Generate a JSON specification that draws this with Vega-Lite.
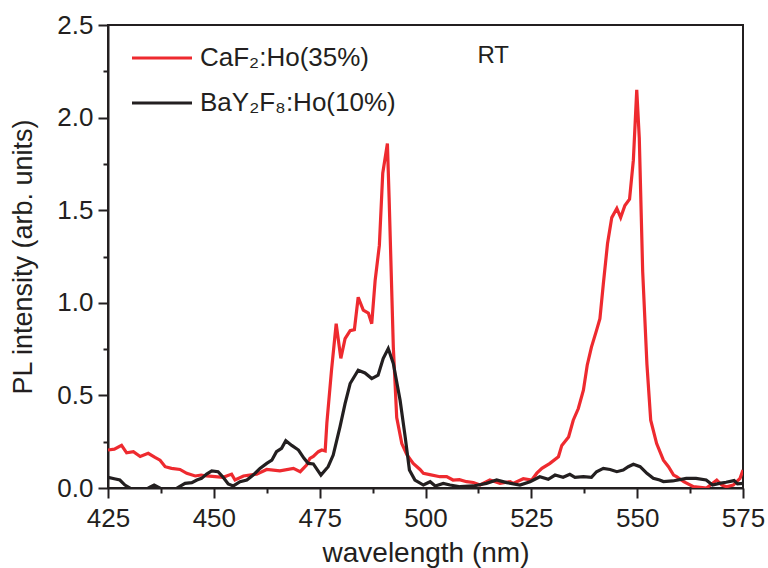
{
  "$schema": "https://vega.github.io/schema/vega-lite/v6.json",
  "width": 635,
  "height": 463,
  "autosize": {"type": "none"},
  "padding": {"left": 108, "top": 25, "right": 25, "bottom": 80},
  "config": {
    "font": "Liberation Sans",
    "view": {"stroke": "#231f20", "strokeWidth": 2},
    "axis": {
      "grid": false,
      "domainColor": "#231f20",
      "domainWidth": 2,
      "tickColor": "#231f20",
      "tickWidth": 2,
      "labelColor": "#231f20",
      "titleColor": "#231f20",
      "labelFontSize": 26,
      "titleFontSize": 27,
      "titleFontWeight": "normal",
      "labelFont": "Liberation Sans",
      "titleFont": "Liberation Sans"
    }
  },
  "datasets": {
    "spectra": [
      {"s":"CaF","wl":425,"v":0.205},{"s":"CaF","wl":426.5,"v":0.21},{"s":"CaF","wl":428.2,"v":0.23},{"s":"CaF","wl":429.4,"v":0.19},{"s":"CaF","wl":431,"v":0.196},{"s":"CaF","wl":432.6,"v":0.17},{"s":"CaF","wl":434.5,"v":0.187},{"s":"CaF","wl":436.1,"v":0.165},{"s":"CaF","wl":437.3,"v":0.15},{"s":"CaF","wl":438.5,"v":0.115},{"s":"CaF","wl":440,"v":0.106},{"s":"CaF","wl":442,"v":0.1},{"s":"CaF","wl":443.6,"v":0.079},{"s":"CaF","wl":445.6,"v":0.065},{"s":"CaF","wl":447,"v":0.07},{"s":"CaF","wl":448.3,"v":0.065},{"s":"CaF","wl":450.3,"v":0.061},{"s":"CaF","wl":452.2,"v":0.058},{"s":"CaF","wl":454.2,"v":0.075},{"s":"CaF","wl":455,"v":0.043},{"s":"CaF","wl":457,"v":0.065},{"s":"CaF","wl":460.1,"v":0.075},{"s":"CaF","wl":462.5,"v":0.1},{"s":"CaF","wl":465.6,"v":0.093},{"s":"CaF","wl":468.8,"v":0.106},{"s":"CaF","wl":470.4,"v":0.088},{"s":"CaF","wl":471.9,"v":0.124},{"s":"CaF","wl":472.7,"v":0.16},{"s":"CaF","wl":473.5,"v":0.17},{"s":"CaF","wl":474.7,"v":0.196},{"s":"CaF","wl":475.5,"v":0.205},{"s":"CaF","wl":476.3,"v":0.2},{"s":"CaF","wl":476.7,"v":0.35},{"s":"CaF","wl":477.8,"v":0.636},{"s":"CaF","wl":478.9,"v":0.887},{"s":"CaF","wl":480,"v":0.7},{"s":"CaF","wl":481,"v":0.807},{"s":"CaF","wl":482.2,"v":0.85},{"s":"CaF","wl":483.2,"v":0.855},{"s":"CaF","wl":484.1,"v":1.03},{"s":"CaF","wl":485.3,"v":0.96},{"s":"CaF","wl":486.5,"v":0.945},{"s":"CaF","wl":487.3,"v":0.887},{"s":"CaF","wl":488.1,"v":1.12},{"s":"CaF","wl":489.1,"v":1.31},{"s":"CaF","wl":489.9,"v":1.7},{"s":"CaF","wl":491,"v":1.86},{"s":"CaF","wl":491.4,"v":1.57},{"s":"CaF","wl":492.4,"v":0.76},{"s":"CaF","wl":493.2,"v":0.38},{"s":"CaF","wl":494.4,"v":0.24},{"s":"CaF","wl":495.6,"v":0.18},{"s":"CaF","wl":497.1,"v":0.133},{"s":"CaF","wl":498.7,"v":0.1},{"s":"CaF","wl":499.5,"v":0.079},{"s":"CaF","wl":501,"v":0.072},{"s":"CaF","wl":503.4,"v":0.061},{"s":"CaF","wl":505,"v":0.061},{"s":"CaF","wl":506.5,"v":0.043},{"s":"CaF","wl":508,"v":0.045},{"s":"CaF","wl":509.7,"v":0.034},{"s":"CaF","wl":511.3,"v":0.03},{"s":"CaF","wl":512.9,"v":0.016},{"s":"CaF","wl":515.2,"v":0.043},{"s":"CaF","wl":517.6,"v":0.025},{"s":"CaF","wl":520,"v":0.034},{"s":"CaF","wl":520.7,"v":0.025},{"s":"CaF","wl":523.1,"v":0.05},{"s":"CaF","wl":525.1,"v":0.043},{"s":"CaF","wl":526.3,"v":0.08},{"s":"CaF","wl":527.5,"v":0.106},{"s":"CaF","wl":529.4,"v":0.133},{"s":"CaF","wl":531.4,"v":0.169},{"s":"CaF","wl":532.2,"v":0.23},{"s":"CaF","wl":533.8,"v":0.276},{"s":"CaF","wl":534.9,"v":0.366},{"s":"CaF","wl":536.1,"v":0.429},{"s":"CaF","wl":537.3,"v":0.528},{"s":"CaF","wl":538.2,"v":0.663},{"s":"CaF","wl":539.2,"v":0.761},{"s":"CaF","wl":540.4,"v":0.851},{"s":"CaF","wl":541.2,"v":0.914},{"s":"CaF","wl":542,"v":1.1},{"s":"CaF","wl":543,"v":1.32},{"s":"CaF","wl":544,"v":1.46},{"s":"CaF","wl":545.2,"v":1.51},{"s":"CaF","wl":546.1,"v":1.46},{"s":"CaF","wl":547.1,"v":1.525},{"s":"CaF","wl":548.2,"v":1.56},{"s":"CaF","wl":549.1,"v":1.77},{"s":"CaF","wl":549.9,"v":2.15},{"s":"CaF","wl":550.5,"v":1.89},{"s":"CaF","wl":551.3,"v":1.17},{"s":"CaF","wl":552.3,"v":0.67},{"s":"CaF","wl":553.2,"v":0.366},{"s":"CaF","wl":554.6,"v":0.24},{"s":"CaF","wl":556.2,"v":0.15},{"s":"CaF","wl":557.4,"v":0.115},{"s":"CaF","wl":558.6,"v":0.07},{"s":"CaF","wl":559.3,"v":0.061},{"s":"CaF","wl":561,"v":0.034},{"s":"CaF","wl":563.3,"v":0.007},{"s":"CaF","wl":566.4,"v":0.0},{"s":"CaF","wl":568.8,"v":0.043},{"s":"CaF","wl":570,"v":0.016},{"s":"CaF","wl":571.1,"v":0.007},{"s":"CaF","wl":572.7,"v":0.016},{"s":"CaF","wl":574.3,"v":0.052},{"s":"CaF","wl":575,"v":0.097},
      {"s":"BaY","wl":425,"v":0.058},{"s":"BaY","wl":426.5,"v":0.05},{"s":"BaY","wl":427.8,"v":0.043},{"s":"BaY","wl":429,"v":0.016},{"s":"BaY","wl":430.2,"v":0.0},{"s":"BaY","wl":431.5,"v":-0.02},{"s":"BaY","wl":433,"v":-0.02},{"s":"BaY","wl":434.9,"v":0.004},{"s":"BaY","wl":435.9,"v":0.016},{"s":"BaY","wl":437.3,"v":0.0},{"s":"BaY","wl":438.5,"v":-0.02},{"s":"BaY","wl":440,"v":-0.02},{"s":"BaY","wl":441.6,"v":0.004},{"s":"BaY","wl":443.2,"v":0.025},{"s":"BaY","wl":444.8,"v":0.029},{"s":"BaY","wl":446,"v":0.043},{"s":"BaY","wl":447.1,"v":0.052},{"s":"BaY","wl":448.3,"v":0.075},{"s":"BaY","wl":449.5,"v":0.092},{"s":"BaY","wl":451,"v":0.088},{"s":"BaY","wl":452.2,"v":0.058},{"s":"BaY","wl":453.4,"v":0.022},{"s":"BaY","wl":454.6,"v":0.011},{"s":"BaY","wl":456.2,"v":0.034},{"s":"BaY","wl":457.8,"v":0.043},{"s":"BaY","wl":459.3,"v":0.07},{"s":"BaY","wl":460.9,"v":0.106},{"s":"BaY","wl":462.5,"v":0.133},{"s":"BaY","wl":463.7,"v":0.15},{"s":"BaY","wl":464.8,"v":0.196},{"s":"BaY","wl":466,"v":0.214},{"s":"BaY","wl":467,"v":0.255},{"s":"BaY","wl":468.4,"v":0.23},{"s":"BaY","wl":470,"v":0.205},{"s":"BaY","wl":471.3,"v":0.16},{"s":"BaY","wl":472.3,"v":0.133},{"s":"BaY","wl":473.5,"v":0.13},{"s":"BaY","wl":475.3,"v":0.07},{"s":"BaY","wl":477,"v":0.115},{"s":"BaY","wl":478.2,"v":0.178},{"s":"BaY","wl":479.8,"v":0.33},{"s":"BaY","wl":481,"v":0.456},{"s":"BaY","wl":482.2,"v":0.564},{"s":"BaY","wl":484.1,"v":0.636},{"s":"BaY","wl":485.7,"v":0.621},{"s":"BaY","wl":487.3,"v":0.591},{"s":"BaY","wl":488.8,"v":0.609},{"s":"BaY","wl":490,"v":0.699},{"s":"BaY","wl":491.2,"v":0.753},{"s":"BaY","wl":492.4,"v":0.672},{"s":"BaY","wl":494,"v":0.474},{"s":"BaY","wl":495.2,"v":0.276},{"s":"BaY","wl":496.2,"v":0.097},{"s":"BaY","wl":497.5,"v":0.043},{"s":"BaY","wl":499.5,"v":0.016},{"s":"BaY","wl":501.1,"v":0.034},{"s":"BaY","wl":502.3,"v":0.011},{"s":"BaY","wl":504.2,"v":0.025},{"s":"BaY","wl":505.8,"v":0.016},{"s":"BaY","wl":508.2,"v":0.007},{"s":"BaY","wl":511.3,"v":0.011},{"s":"BaY","wl":514.4,"v":0.025},{"s":"BaY","wl":516.8,"v":0.043},{"s":"BaY","wl":519.2,"v":0.029},{"s":"BaY","wl":522.3,"v":0.016},{"s":"BaY","wl":524.7,"v":0.034},{"s":"BaY","wl":527,"v":0.061},{"s":"BaY","wl":529,"v":0.047},{"s":"BaY","wl":530.6,"v":0.07},{"s":"BaY","wl":532.5,"v":0.058},{"s":"BaY","wl":534.1,"v":0.074},{"s":"BaY","wl":535.3,"v":0.058},{"s":"BaY","wl":537.3,"v":0.061},{"s":"BaY","wl":539.2,"v":0.058},{"s":"BaY","wl":540.4,"v":0.088},{"s":"BaY","wl":542,"v":0.106},{"s":"BaY","wl":543.6,"v":0.1},{"s":"BaY","wl":545.2,"v":0.088},{"s":"BaY","wl":546.7,"v":0.097},{"s":"BaY","wl":547.9,"v":0.115},{"s":"BaY","wl":549.1,"v":0.128},{"s":"BaY","wl":550.7,"v":0.115},{"s":"BaY","wl":552.3,"v":0.079},{"s":"BaY","wl":553.8,"v":0.052},{"s":"BaY","wl":555.3,"v":0.043},{"s":"BaY","wl":556.2,"v":0.035},{"s":"BaY","wl":558.4,"v":0.038},{"s":"BaY","wl":561.6,"v":0.052},{"s":"BaY","wl":563.9,"v":0.052},{"s":"BaY","wl":566.3,"v":0.043},{"s":"BaY","wl":567.8,"v":0.016},{"s":"BaY","wl":569.4,"v":0.025},{"s":"BaY","wl":571,"v":0.031},{"s":"BaY","wl":572.9,"v":0.04},{"s":"BaY","wl":573.7,"v":0.022},{"s":"BaY","wl":575,"v":0.025}
    ],
    "notes": [{"label": "RT", "wl": 516, "v": 2.33}]
  },
  "layer": [
    {
      "data": {"name": "spectra"},
      "mark": {"type": "line", "strokeWidth": 3.2, "clip": true, "strokeJoin": "miter"},
      "encoding": {
        "x": {
          "field": "wl", "type": "quantitative",
          "scale": {"domain": [425, 575], "nice": false, "zero": false},
          "axis": {
            "title": "wavelength (nm)",
            "values": [425, 437.5, 450, 462.5, 475, 487.5, 500, 512.5, 525, 537.5, 550, 562.5, 575],
            "labelExpr": "datum.value % 25 == 0 ? format(datum.value, 'd') : ''",
            "tickSize": {"condition": {"test": "datum.value % 25 != 0", "value": 5}, "value": 10},
            "labelPadding": 7,
            "titlePadding": 8,
            "titleFontSize": 28,
            "labelFlush": false
          }
        },
        "y": {
          "field": "v", "type": "quantitative",
          "scale": {"domain": [0, 2.5], "nice": false},
          "axis": {
            "title": "PL intensity (arb. units)",
            "values": [0, 0.25, 0.5, 0.75, 1, 1.25, 1.5, 1.75, 2, 2.25, 2.5],
            "labelExpr": "round(datum.value * 4) % 2 == 0 ? format(datum.value, '.1f') : ''",
            "tickSize": {"condition": {"test": "round(datum.value * 4) % 2 == 1", "value": 5}, "value": 10},
            "labelPadding": 5,
            "titlePadding": 19,
            "labelFlush": false
          }
        },
        "color": {
          "field": "s", "type": "nominal",
          "scale": {"domain": ["CaF", "BaY"], "range": ["#ee2a2f", "#231f20"]},
          "legend": {
            "title": null,
            "orient": "none",
            "legendX": 22,
            "legendY": 1,
            "symbolType": "stroke",
            "symbolSize": 3600,
            "symbolStrokeWidth": 3.2,
            "labelFontSize": 26,
            "labelLimit": 0,
            "labelColor": "#231f20",
            "labelOffset": 6,
            "rowPadding": -3,
            "labelExpr": "datum.label == 'CaF' ? 'CaF₂:Ho(35%)' : 'BaY₂F₈:Ho(10%)'"
          }
        }
      }
    },
    {
      "data": {"name": "notes"},
      "mark": {"type": "text", "fontSize": 24, "color": "#231f20", "font": "Liberation Sans"},
      "encoding": {
        "x": {"field": "wl", "type": "quantitative"},
        "y": {"field": "v", "type": "quantitative"},
        "text": {"field": "label"}
      }
    }
  ]
}
